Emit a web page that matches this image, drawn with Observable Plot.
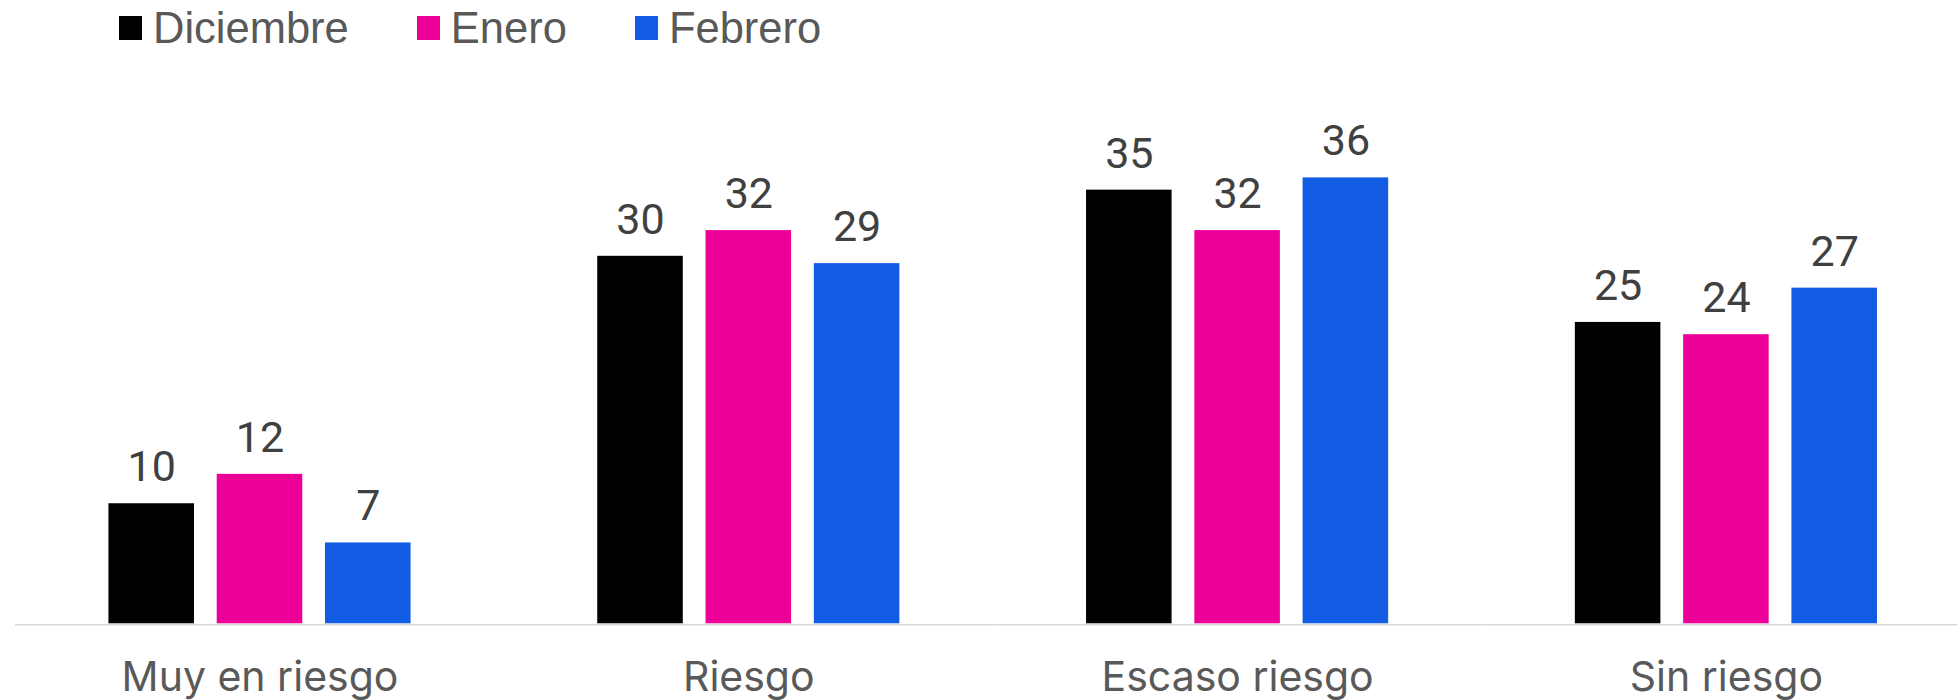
<!DOCTYPE html>
<html><head><meta charset="utf-8">
<script src="https://cdn.jsdelivr.net/npm/d3@7"></script>
<script src="https://cdn.jsdelivr.net/npm/@observablehq/plot@0.6"></script>
<style>
html,body{margin:0;padding:0;background:#fff;overflow:hidden;width:1957px;height:700px}
#legend{display:flex;align-items:center;height:56px;padding-left:119px;font-family:"Liberation Sans",Arial,sans-serif;font-size:43.5px;color:#595959}
.item{display:flex;align-items:center;margin-right:68px}
.sw{width:23px;height:24px;margin-right:11px}
#chart svg{overflow:visible}
</style></head><body>
<div id="legend"></div>
<div id="chart"></div>
<script>
const categories = ["Muy en riesgo", "Riesgo", "Escaso riesgo", "Sin riesgo"];
const series = ["Diciembre", "Enero", "Febrero"];
// values (labels show them rounded)
const diciembre = [9.8, 30.0, 35.4, 24.6];
const enero = [12.2, 32.1, 32.1, 23.6];
const febrero = [6.6, 29.4, 36.4, 27.4];
const colors = ["#000000", "#ec0098", "#115ce3"];

const data = [];
[diciembre, enero, febrero].forEach((vals, si) =>
  vals.forEach((v, ci) => data.push({category: categories[ci], series: series[si], value: v})));

const legend = document.getElementById("legend");
series.forEach((s, i) => {
  const it = document.createElement("div");
  it.className = "item";
  const sw = document.createElement("div");
  sw.className = "sw";
  sw.style.background = colors[i];
  const t = document.createElement("span");
  t.textContent = s;
  it.appendChild(sw); it.appendChild(t);
  legend.appendChild(it);
});

const plot = Plot.plot({
  width: 1957,
  height: 644,
  marginTop: 77.3,
  marginBottom: 76.7,
  marginLeft: 15.1,
  marginRight: 0,
  style: {fontFamily: "Inter, sans-serif", color: "#595959", background: "white"},
  fx: {domain: categories, range: [15.1, 1970.3], padding: 0, round: false, label: null},
  x: {domain: series, paddingInner: 0.21, paddingOuter: 0.862, round: false, axis: null},
  y: {domain: [0, 40], axis: null},
  color: {domain: series, range: colors},
  marks: [
    Plot.ruleY([0], {stroke: "#d9d9d9", strokeWidth: 1.5, dy: 1}),
    Plot.barY(data, {fx: "category", x: "series", y: "value", fill: "series"}),
    Plot.text(data, {fx: "category", x: "series", y: "value", text: d => String(Math.round(d.value)),
      lineAnchor: "bottom", dy: -22.5, fontSize: 43, fontFamily: "Roboto", fill: "#404040"}),
    Plot.axisFx({anchor: "bottom", tickSize: 0, tickPadding: 38.3, fontSize: 41, label: null, fontFamily: "Inter"})
  ]
});
document.getElementById("chart").appendChild(plot);
</script>
</body></html>
